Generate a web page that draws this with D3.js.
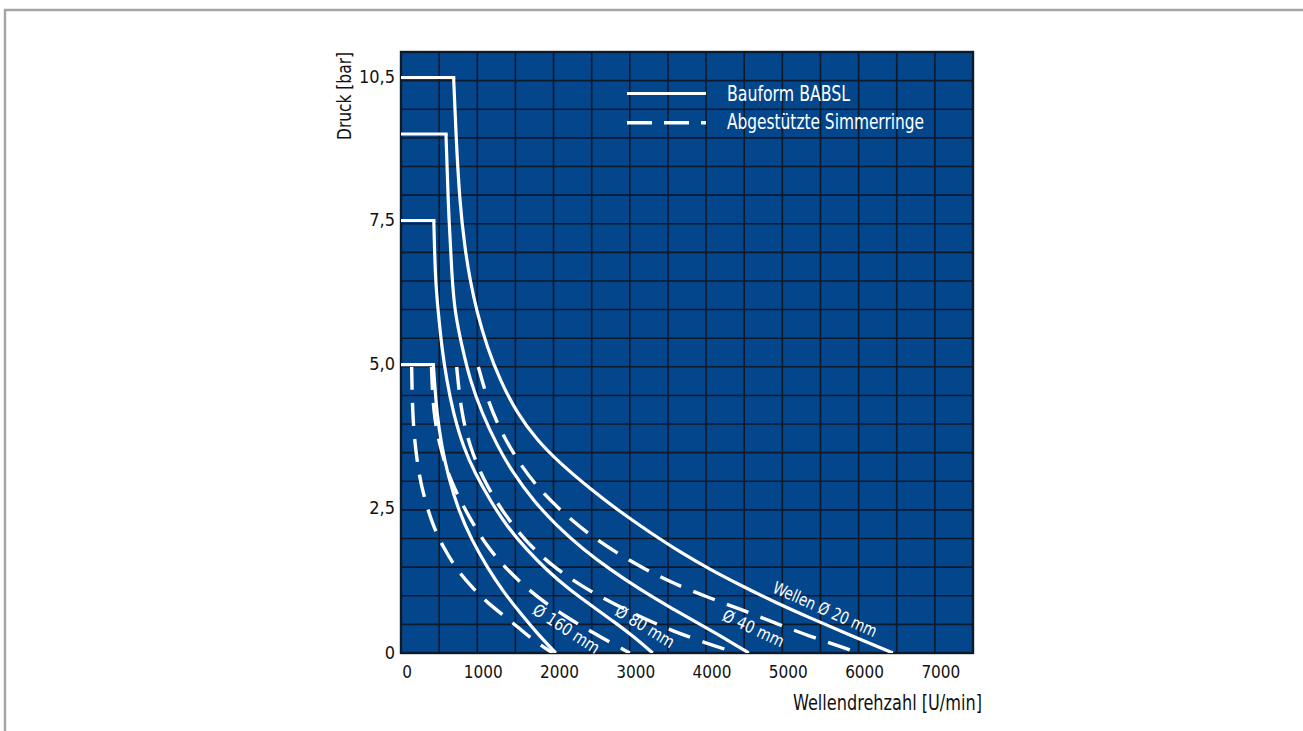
<!DOCTYPE html>
<html>
<head>
<meta charset="utf-8">
<script src="https://cdn.jsdelivr.net/npm/d3@7"></script>
<style>
  body { margin: 0; background: #ffffff; }
  svg { display: block; }
  text { font-family: "Liberation Sans Narrow", "Arial Narrow", "DejaVu Sans Condensed", "Liberation Sans", sans-serif; }
</style>
</head>
<body>
<svg id="chart" width="1303" height="731"></svg>
<script>
// ---------------- data ----------------
const rpmTicks = [0, 1000, 2000, 3000, 4000, 5000, 6000, 7000];
const barTicks = [0, 2.5, 5, 7.5, 10.5];
const barTickLabels = ["0", "2,5", "5,0", "7,5", "10,5"];

// Bauform BABSL (solid) — [rpm, bar]; first two points are the pressure plateau
const babsl20 = [[0,10.5],[690,10.5],[720,9.0],[770,7.8],[840,7.0],[905,6.47],[997,5.9],[1128,5.31],[1298,4.73],[1521,4.16],[1783,3.69],[2085,3.29],[2478,2.85],[2871,2.45],[3264,2.09],[3658,1.75],[4051,1.45],[4444,1.18],[4903,0.88],[5362,0.61],[5887,0.31],[6450,0]];
const babsl40 = [[0,9],[590,9],[616,7.86],[669,6.47],[708,5.9],[800,5.31],[905,4.73],[1062,4.16],[1259,3.6],[1469,3.12],[1731,2.65],[2045,2.2],[2386,1.8],[2740,1.45],[3134,1.1],[3566,0.76],[4012,0.43],[4300,0.21],[4560,0]];
const babsl80 = [[0,7.5],[430,7.5],[450,6.47],[489,5.9],[534,5.31],[599,4.73],[686,4.16],[817,3.57],[970,3.12],[1167,2.65],[1386,2.2],[1648,1.79],[1910,1.44],[2215,1.09],[2521,0.8],[2784,0.55],[3046,0.29],[3300,0]];
const babsl160 = [[0,5],[424,5],[468,4.16],[534,3.58],[620,3.06],[751,2.48],[927,1.96],[1124,1.5],[1342,1.06],[1560,0.7],[1779,0.35],[2030,0]];

// Abgestützte Simmerringe (dashed) — [rpm, bar]
const simmer20 = [[1014,4.96],[1124,4.43],[1298,3.87],[1521,3.35],[1783,2.88],[2085,2.48],[2439,2.08],[2832,1.73],[3220,1.44],[3566,1.21],[4012,0.97],[4450,0.76],[4904,0.52],[5360,0.29],[5880,0.06],[5990,0]];
const simmer40 = [[730,4.96],[790,4.16],[905,3.57],[1080,3.0],[1340,2.43],[1650,1.91],[2000,1.49],[2390,1.14],[2780,0.86],[3180,0.6],[3570,0.38],[3960,0.19],[4400,0]];
const simmer80 = [[400,4.96],[423,4.16],[511,3.57],[642,3.0],[861,2.43],[1124,1.84],[1429,1.39],[1779,0.97],[2172,0.62],[2517,0.35],[3000,0]];
const simmer160 = [[140,4.96],[152,4.0],[220,3.2],[290,2.77],[405,2.25],[550,1.84],[735,1.44],[930,1.14],[1165,0.83],[1430,0.57],[1690,0.26],[1990,0]];

const solidSeries = [babsl20, babsl40, babsl80, babsl160];
const dashedSeries = [simmer20, simmer40, simmer80, simmer160];

// curve annotations
const curveLabels = ["Wellen Ø 20 mm", "Ø 40 mm", "Ø 80 mm", "Ø 160 mm"];
const curveLabelRpm = [5560, 4620, 3200, 2170];
const curveLabelBar = [0.76, 0.43, 0.46, 0.42];
const curveLabelAngle = [24, 25, 31, 33];
const curveLabelLen = [112, 66, 66, 76];

const legendLabels = ["Bauform BABSL", "Abgestützte Simmerringe"];

// ---------------- layout ----------------
const L = 401, R = 973, T = 52, B = 653;
const blue = "#03468b";
const gridColor = "#0c1a2c";

const svg = d3.select("#chart");

// page frame (top and left edge)
svg.append("path")
  .attr("d", "M5,731 V10 H1303")
  .attr("fill", "none").attr("stroke", "#a4a4a4").attr("stroke-width", 2.4);

const x = d3.scaleLinear().domain([0, 7500]).range([L, R]);
const y = d3.scaleLinear().domain([0, 9, 10.5]).range([B, 134, 77.5]);
const rowScale = d3.scaleLinear().domain([0, 21]).range([B, T]);

svg.append("defs").append("clipPath").attr("id", "clip")
  .append("rect").attr("x", L).attr("y", T).attr("width", R - L).attr("height", B - T);

svg.append("rect").attr("x", L).attr("y", T).attr("width", R - L).attr("height", B - T).attr("fill", blue);

// grid
const grid = svg.append("g").attr("stroke", gridColor).attr("stroke-width", 1.6);
grid.selectAll("line.v").data(d3.range(500, 7500, 500)).join("line")
  .attr("x1", d => x(d)).attr("x2", d => x(d)).attr("y1", T).attr("y2", B);
grid.selectAll("line.h").data(d3.range(1, 21)).join("line")
  .attr("y1", d => rowScale(d)).attr("y2", d => rowScale(d)).attr("x1", L).attr("x2", R);

svg.append("rect").attr("x", L).attr("y", T).attr("width", R - L).attr("height", B - T)
  .attr("fill", "none").attr("stroke", gridColor).attr("stroke-width", 2.4);

// curves
const stepLine = d3.line().x(d => x(d[0])).y(d => y(d[1]));
const smooth = d3.line().x(d => x(d[0])).y(d => y(d[1])).curve(d3.curveBasis);
const curves = svg.append("g").attr("clip-path", "url(#clip)");
curves.selectAll("path.step").data(solidSeries).join("path")
  .attr("d", d => stepLine(d.slice(0, 2)))
  .attr("fill", "none").attr("stroke", "#ffffff").attr("stroke-width", 3.2).attr("stroke-linecap", "square");
curves.selectAll("path.solid").data(solidSeries).join("path")
  .attr("d", d => smooth(d.slice(1)))
  .attr("fill", "none").attr("stroke", "#ffffff").attr("stroke-width", 3.2);
curves.selectAll("path.dash").data(dashedSeries).join("path")
  .attr("d", smooth).attr("fill", "none").attr("stroke", "#ffffff").attr("stroke-width", 3.4)
  .attr("stroke-dasharray", "23,13");

// curve labels
svg.selectAll("text.cl").data(curveLabels).join("text")
  .attr("transform", (d, i) => `translate(${x(curveLabelRpm[i])},${y(curveLabelBar[i])}) rotate(${curveLabelAngle[i]})`)
  .attr("text-anchor", "middle").attr("dominant-baseline", "central")
  .attr("font-size", 17).attr("fill", "#ffffff")
  .attr("textLength", (d, i) => curveLabelLen[i]).attr("lengthAdjust", "spacingAndGlyphs")
  .text(d => d);

// legend
const lg = svg.append("g");
lg.append("line").attr("x1", 627).attr("x2", 706).attr("y1", 93.5).attr("y2", 93.5)
  .attr("stroke", "#fff").attr("stroke-width", 3.2);
lg.append("line").attr("x1", 627).attr("x2", 706).attr("y1", 122.7).attr("y2", 122.7)
  .attr("stroke", "#fff").attr("stroke-width", 3.4).attr("stroke-dasharray", "25,12");
lg.selectAll("text").data(legendLabels).join("text")
  .attr("x", 727).attr("y", (d, i) => i === 0 ? 101 : 129)
  .attr("font-size", 21).attr("fill", "#fff")
  .attr("textLength", (d, i) => i === 0 ? 123 : 197).attr("lengthAdjust", "spacingAndGlyphs")
  .text(d => d);

// y-axis labels
svg.selectAll("text.yt").data(barTicks).join("text")
  .attr("x", 395).attr("y", d => y(d) - 1)
  .attr("text-anchor", "end").attr("dominant-baseline", "central")
  .attr("font-size", 18).attr("fill", "#111")
  .text((d, i) => barTickLabels[i]);

// x-axis labels
svg.selectAll("text.xt").data(rpmTicks).join("text")
  .attr("x", d => x(d) + 6).attr("y", 672)
  .attr("text-anchor", "middle").attr("dominant-baseline", "central")
  .attr("font-size", 17).attr("fill", "#111")
  .text(d => String(d));

// axis titles
svg.append("text").attr("x", 982).attr("y", 710).attr("text-anchor", "end")
  .attr("font-size", 21).attr("fill", "#111")
  .attr("textLength", 189).attr("lengthAdjust", "spacingAndGlyphs")
  .text("Wellendrehzahl [U/min]");
svg.append("text").attr("transform", "translate(351,52) rotate(-90)").attr("text-anchor", "end")
  .attr("font-size", 20).attr("fill", "#111")
  .attr("textLength", 88).attr("lengthAdjust", "spacingAndGlyphs")
  .text("Druck [bar]");
</script>
</body>
</html>
